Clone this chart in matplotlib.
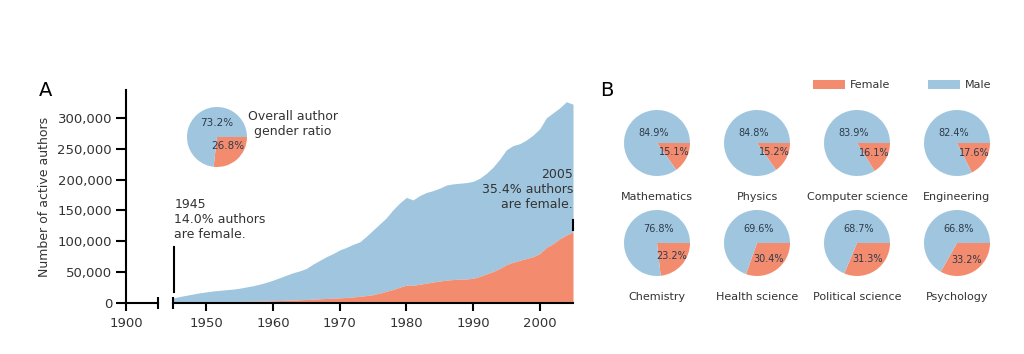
import numpy as np
import matplotlib
matplotlib.use('Agg')
import matplotlib.pyplot as plt
from matplotlib.patches import Patch

# ---- data ----
years = list(range(1945, 2006))
total_authors = [8000, 10500, 12500, 14500, 16500, 18000, 19500, 20500, 21500, 22500,
                 24000, 26000, 28000, 30500, 33500, 37000, 41000, 45000, 49000, 52000,
                 56000, 63000, 69000, 75000, 80000, 86000, 90000, 95000, 99000, 108000,
                 118000, 128000, 138000, 151000, 162000, 171000, 167000, 174000, 179000, 182000,
                 186000, 191000, 193000, 194000, 195000, 197000, 202000, 210000, 220000, 233000,
                 248000, 255000, 258000, 264000, 272000, 282000, 300000, 308000, 316000, 326000,
                 322000]
female_authors = [1100, 1300, 1500, 1600, 1800, 1900, 2000, 2100, 2200, 2300,
                  2500, 2700, 2900, 3100, 3300, 3600, 4000, 4400, 4800, 5200,
                  5700, 6200, 6800, 7300, 7800, 8300, 9000, 9800, 10800, 12000,
                  13500, 16000, 19000, 22000, 25500, 29000, 28500, 30500, 32000, 34000,
                  35500, 37000, 38000, 38500, 39000, 40000, 43000, 47000, 51000, 56000,
                  62000, 66000, 69000, 72000, 75000, 80000, 90000, 96000, 104000, 110000,
                  115000]
yticks = [0, 50000, 100000, 150000, 200000, 250000, 300000]
xticks = [1950, 1960, 1970, 1980, 1990, 2000]

overall_female = 26.8
overall_male = 73.2

fields = ['Mathematics', 'Physics', 'Computer science', 'Engineering',
          'Chemistry', 'Health science', 'Political science', 'Psychology']
field_female = [15.1, 15.2, 16.1, 17.6, 23.2, 30.4, 31.3, 33.2]
field_male = [84.9, 84.8, 83.9, 82.4, 76.8, 69.6, 68.7, 66.8]

BLUE = '#9fc6de'
SALMON = '#f38c6f'
TXT = '#333333'
PCT = '#2e3a4c'

W, H = 1024, 354
fig = plt.figure(figsize=(W / 100, H / 100), dpi=100)


def px_box(x0, y0, x1, y1):
    # pixel box (top-left origin) -> figure fraction
    return [x0 / W, 1 - y1 / H, (x1 - x0) / W, (y1 - y0) / H]


# ---- panel A: broken x axis ----
ylim = (0, 345000)
axL = fig.add_axes(px_box(126, 90, 158, 303))
axR = fig.add_axes(px_box(173, 90, 573, 303))

for ax in (axL, axR):
    for s in ('top', 'right'):
        ax.spines[s].set_visible(False)
    for s in ('left', 'bottom'):
        ax.spines[s].set_linewidth(1.5)
    ax.set_ylim(*ylim)
    ax.tick_params(axis='x', length=6, width=1.5, labelsize=9.5, colors='black', labelcolor=TXT, pad=4)
    ax.tick_params(axis='y', length=7, width=1.5, labelsize=9.5, colors='black', labelcolor=TXT, pad=3)

axL.set_xlim(1900, 1905)
axL.set_xticks([1900])
axL.set_yticks(yticks)
axL.set_yticklabels([f'{v:,}' for v in yticks])
axL.set_ylabel('Number of active authors', fontsize=9, color=TXT, labelpad=5)

axR.spines['left'].set_visible(False)
axR.set_yticks([])
axR.set_xlim(1945, 2005)
axR.set_xticks(xticks)

# break markers
axL.plot([1], [0], marker='|', ms=9, mew=1.5, color='black', transform=axL.transAxes, clip_on=False)
axR.plot([0], [0], marker='|', ms=9, mew=1.5, color='black', transform=axR.transAxes, clip_on=False)

yrs = np.array(years)
tot = np.array(total_authors)
fem = np.array(female_authors)
axR.fill_between(yrs, fem, tot, color=BLUE, lw=0)
axR.fill_between(yrs, 0, fem, color=SALMON, lw=0)

axR.plot([1945.2, 1945.2], [18000, 91000], color='black', lw=1.5, clip_on=False)
axR.text(1945.2, 170000, '1945\n14.0% authors\nare female.', fontsize=9, color=TXT,
         ha='left', va='top', linespacing=1.2)
axR.plot([2004.95, 2004.95], [118000, 134000], color='black', lw=1.5, clip_on=False)
axR.text(2005, 219000, '2005\n35.4% authors\nare female.', fontsize=9, color=TXT,
         ha='right', va='top', linespacing=1.2)

fig.text(46 / W, 1 - 90 / H, 'A', fontsize=14, ha='center', va='center', color='black')
fig.text(607 / W, 1 - 90 / H, 'B', fontsize=14, ha='center', va='center', color='black')


def draw_pie(cx, cy, r, female, male, fem_pos, male_pos, fs):
    ax = fig.add_axes(px_box(cx - r, cy - r, cx + r, cy + r))
    ax.pie([female, male], colors=[SALMON, BLUE], startangle=0, counterclock=False,
           radius=1, wedgeprops=dict(lw=0))
    ax.set_xlim(-1, 1)
    ax.set_ylim(-1, 1)
    ax.set_aspect('equal')
    ax.axis('off')
    ax.text(*fem_pos, f'{female:.1f}%', fontsize=fs, color=PCT, ha='center', va='center')
    ax.text(*male_pos, f'{male:.1f}%', fontsize=fs, color=PCT, ha='center', va='center')
    return ax


# overall pie inside panel A
draw_pie(217, 137, 30, overall_female, overall_male, (0.37, -0.3), (0.0, 0.47), 7.5)
fig.text(293 / W, 1 - 124 / H, 'Overall author\ngender ratio', fontsize=9, color=TXT,
         ha='center', va='center', linespacing=1.1)

# ---- panel B: pies per field ----
centers_x = [657, 757, 857, 957]
centers_y = [143, 243]
label_y = [197, 297]
for i, name in enumerate(fields):
    row, col = divmod(i, 4)
    cx, cy = centers_x[col], centers_y[row]
    theta = np.deg2rad(-field_female[i] / 100 * 360 / 2)
    fpos = (0.6 * np.cos(theta), 0.6 * np.sin(theta))
    mpos = (-0.1, 0.3) if row == 0 else (0.05, 0.43)
    draw_pie(cx, cy, 33, field_female[i], field_male[i], fpos, mpos, 7)
    fig.text(cx / W, 1 - label_y[row] / H, name, fontsize=8, color=TXT, ha='center', va='center')

handles = [Patch(color=SALMON, lw=0), Patch(color=BLUE, lw=0)]
fig.legend(handles, ['Female', 'Male'], ncol=2, frameon=False, fontsize=8,
           loc='center', bbox_to_anchor=(902 / W, 1 - 85 / H),
           handlelength=2.9, handleheight=0.9, handletextpad=0.4, columnspacing=3.4,
           labelcolor=TXT)

fig.savefig('out.png', dpi=100)
